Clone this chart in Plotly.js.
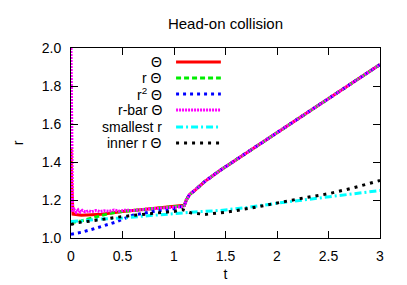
<!DOCTYPE html>
<html>
<head>
<meta charset="utf-8">
<script src="https://cdn.plot.ly/plotly-3.0.1.min.js"></script>
<style>html,body{margin:0;padding:0;background:#fff}#chart{width:407px;height:285px}</style>
</head>
<body>
<div id="chart"></div>
<script>
// Θ
var tTheta = [0, 0.005, 0.02, 0.1, 0.3, 0.5, 0.7, 0.9, 1.05, 1.1, 1.12, 1.15, 1.2, 1.3, 1.45, 1.73, 2.0, 2.23, 2.5, 2.75, 3.0];
var rTheta = [1.47, 1.30, 1.125, 1.12, 1.125, 1.14, 1.15, 1.16, 1.168, 1.172, 1.2, 1.228, 1.25, 1.298, 1.357, 1.457, 1.554, 1.636, 1.734, 1.824, 1.913];
// r Θ
var tRTheta = [0, 0.1, 0.2, 0.38, 0.5, 0.7, 0.9, 1.05, 1.1, 1.12, 1.15, 1.2, 1.3, 1.45, 1.73, 2.0, 2.23, 2.5, 2.75, 3.0];
var rRTheta = [1.08, 1.09, 1.105, 1.13, 1.14, 1.15, 1.158, 1.165, 1.17, 1.2, 1.228, 1.25, 1.298, 1.357, 1.457, 1.554, 1.636, 1.734, 1.824, 1.913];
// r^2 Θ
var tR2Theta = [0, 0.05, 0.1, 0.2, 0.28, 0.43, 0.6, 0.8, 1.0, 1.1, 1.12, 1.15, 1.2, 1.3, 1.45, 1.73, 2.0, 2.23, 2.5, 2.75, 3.0];
var rR2Theta = [1.02, 1.025, 1.03, 1.045, 1.057, 1.083, 1.12, 1.14, 1.155, 1.17, 1.2, 1.228, 1.25, 1.298, 1.357, 1.457, 1.554, 1.636, 1.734, 1.824, 1.913];
// r-bar Θ
var tRbar = [0, 0.003, 0.008, 0.015, 0.03, 0.05, 0.07, 0.09, 0.11, 0.14, 0.17, 0.2, 0.24, 0.28, 0.32, 0.37, 0.42, 0.47, 0.52, 0.6, 0.8, 1.0, 1.08, 1.1, 1.12, 1.15, 1.2, 1.3, 1.45, 1.73, 2.0, 2.23, 2.5, 2.75, 3.0];
var rRbar = [2.0, 1.7, 1.3, 1.14, 1.15, 1.135, 1.148, 1.136, 1.146, 1.137, 1.144, 1.138, 1.145, 1.139, 1.143, 1.14, 1.147, 1.141, 1.146, 1.145, 1.155, 1.162, 1.165, 1.17, 1.2, 1.228, 1.25, 1.298, 1.357, 1.457, 1.554, 1.636, 1.734, 1.824, 1.913];
// smallest r
var tSmall = [0, 0.1, 0.3, 0.5, 0.7, 0.9, 1.0, 1.1, 1.2, 1.45, 1.7, 2.0, 2.5, 3.0];
var rSmall = [1.087, 1.09, 1.1, 1.105, 1.115, 1.125, 1.13, 1.135, 1.137, 1.145, 1.16, 1.183, 1.215, 1.25];
// inner r Θ
var tInner = [0, 0.05, 0.2, 0.5, 0.8, 1.0, 1.08, 1.12, 1.16, 1.3, 1.5, 1.75, 2.0, 2.25, 2.5, 2.75, 3.0];
var rInner = [1.07, 1.08, 1.09, 1.113, 1.13, 1.14, 1.15, 1.14, 1.133, 1.124, 1.135, 1.158, 1.186, 1.21, 1.233, 1.265, 1.303];

var seriesNames = ['Θ', 'r Θ', 'r<sup>2</sup> Θ', 'r-bar Θ', 'smallest r', 'inner r Θ'];
var xTickVals = [0, 0.5, 1, 1.5, 2, 2.5, 3];
var yTickVals = [1.0, 1.2, 1.4, 1.6, 1.8, 2.0];

var FONT = 'Liberation Sans, Arial, sans-serif';
var styles = [
  {color: '#ff0000', width: 3, dash: 'solid'},
  {color: '#00ee00', width: 3, dash: '5px,3px'},
  {color: '#0000ff', width: 3, dash: '3px,4px'},
  {color: '#ff00ff', width: 3, dash: '2px,1px'},
  {color: '#00ffff', width: 3, dash: '7px,3px,2px,3px'},
  {color: '#000000', width: 3, dash: '3px,5px'}
];
var xs = [tTheta, tRTheta, tR2Theta, tRbar, tSmall, tInner];
var ys = [rTheta, rRTheta, rR2Theta, rRbar, rSmall, rInner];

var traces = xs.map(function (x, i) {
  return {x: x, y: ys[i], type: 'scatter', mode: 'lines', name: seriesNames[i],
    line: styles[i], showlegend: false};
});

// gnuplot-style key: right-aligned text, sample line on the right
var keyRowsPx = [62, 78, 94, 110, 127, 143];
var plotTop = 48, plotBottom = 238;
var annotations = [], shapes = [];
keyRowsPx.forEach(function (py, i) {
  var yp = (plotBottom - py) / (plotBottom - plotTop);
  annotations.push({xref: 'paper', yref: 'paper', x: 0.30, y: yp, xanchor: 'right', yanchor: 'middle',
    text: seriesNames[i], showarrow: false, font: {family: FONT, size: 14, color: '#000'}});
  shapes.push({type: 'line', xref: 'paper', yref: 'paper', x0: 0.34, x1: 0.485, y0: yp, y1: yp,
    line: {color: styles[i].color, width: styles[i].width, dash: styles[i].dash}});
});

var layout = {
  width: 407, height: 285,
  margin: {l: 71, r: 27, t: 48, b: 47, pad: 0},
  paper_bgcolor: '#fff', plot_bgcolor: '#fff',
  font: {family: FONT, size: 14, color: '#000'},
  title: {text: 'Head-on collision', x: 0.554, xanchor: 'center', y: 0.915, yanchor: 'middle',
    font: {family: FONT, size: 15, color: '#000'}},
  xaxis: {range: [0, 3], tickvals: xTickVals, ticktext: xTickVals.map(String), ticks: 'inside', ticklen: 7,
    showline: true, mirror: 'ticks', linecolor: '#000', linewidth: 1, tickcolor: '#000', showgrid: false,
    zeroline: false, tickfont: {size: 14}, ticklabelstandoff: 5,
    title: {text: 't', standoff: 6, font: {size: 14}}},
  yaxis: {range: [1.0, 2.0], tickvals: yTickVals, ticktext: yTickVals.map(function (v) { return v.toFixed(1); }),
    ticks: 'inside', ticklen: 7, showline: true, mirror: 'ticks', linecolor: '#000', linewidth: 1,
    tickcolor: '#000', showgrid: false, zeroline: false, tickfont: {size: 14}, ticklabelstandoff: 6,
    title: {text: 'r', standoff: 14, font: {size: 14}}},
  annotations: annotations,
  shapes: shapes,
  showlegend: false
};

Plotly.newPlot('chart', traces, layout, {staticPlot: true, displayModeBar: false});
</script>
</body>
</html>
